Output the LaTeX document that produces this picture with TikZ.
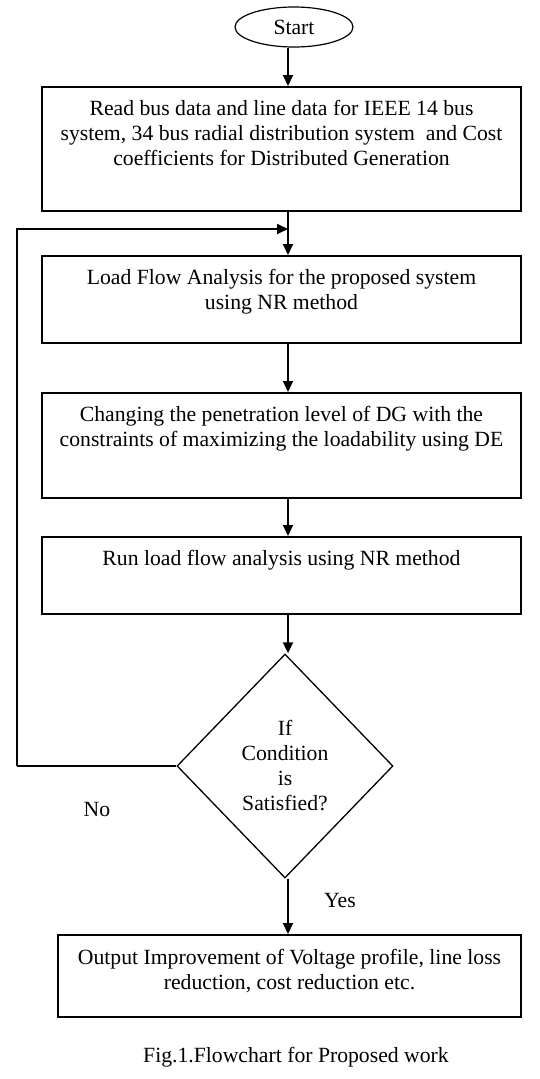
\documentclass[tikz,border=0pt]{standalone}
\usepackage{fontspec}
\setmainfont{Liberation Serif}
\usetikzlibrary{shapes.geometric,arrows.meta}
\begin{document}
\begin{tikzpicture}[x=1pt,y=-1pt,
  every node/.style={font=\fontsize{21.7}{25}\selectfont},
  box/.style={draw,line width=2pt,rectangle,inner sep=0pt},
  txt/.style={anchor=north,align=center,inner sep=0pt},
  arr/.style={line width=1.8pt,-{Triangle[length=11pt,width=10pt]}},
  fb/.style={line width=1.8pt}]
\useasboundingbox (0,0) rectangle (540,1079);
\coordinate (ax) at (288,0);
\coordinate (lx) at (17,0);
\node[draw,ellipse,line width=1.2pt,minimum width=118pt,minimum height=40pt,inner sep=0pt] (start) at (294,27) {Start};
\node[box,minimum width=479pt,minimum height=124pt] (b1) at (281.5,149) {};
\node[txt] (t1) at (281.5,100) {Read bus data and line data for IEEE 14 bus\\system, 34 bus radial distribution system \ and Cost\\coefficients for Distributed Generation};
\node[box,minimum width=479pt,minimum height=87pt] (b2) at (281.5,299.5) {};
\node[txt] (t2) at (281.5,269) {Load Flow Analysis for the proposed system\\using NR method};
\node[box,minimum width=479pt,minimum height=105pt] (b3) at (281.5,445.5) {};
\node[txt] (t3) at (281.5,406) {Changing the penetration level of DG with the\\constraints of maximizing the loadability using DE};
\node[box,minimum width=479pt,minimum height=77pt] (b4) at (281.5,575.5) {};
\node[txt] (t4) at (281.5,550) {Run load flow analysis using NR method};
\node[draw,diamond,line width=1.3pt,minimum width=216pt,minimum height=224pt,inner sep=0pt,align=center] (dia) at (285,766) {If\\Condition\\is\\Satisfied?};
\node[box,minimum width=463pt,minimum height=82pt] (out) at (289.5,976) {};
\node[txt] (t5) at (289.5,949) {Output Improvement of Voltage profile, line loss\\reduction, cost reduction etc.};
\node (no) at (97,809) {No};
\node (yes) at (340,900) {Yes};
\node (cap) at (296,1057) {Fig.1.Flowchart for Proposed work};
\coordinate (fbc) at (dia.west -| lx);
\coordinate (join) at (288,229);
\draw[arr] (start.south -| ax) -- (b1.north -| ax);
\draw[arr] (b1.south -| ax) -- (b2.north -| ax);
\draw[arr] (b2.south -| ax) -- (b3.north -| ax);
\draw[arr] (b3.south -| ax) -- (b4.north -| ax);
\draw[arr] (b4.south -| ax) -- (dia.north -| ax);
\draw[arr] (dia.south -| ax) -- (out.north -| ax);
\draw[fb] (dia.west) -- (fbc);
\draw[arr] (fbc) |- (join);
\end{tikzpicture}
\end{document}
